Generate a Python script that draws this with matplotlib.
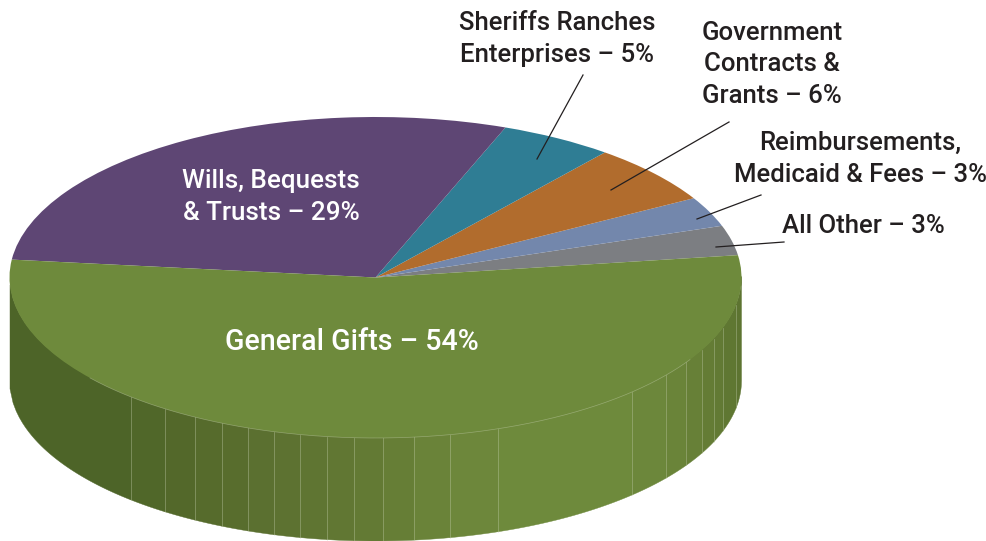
import numpy as np
import matplotlib
matplotlib.use("Agg")
import matplotlib.pyplot as plt

W, H = 987, 541
CX, CY, RX, RY, DEPTH = 375.5, 277.5, 366, 160.5, 103

categories = ["All Other", "Reimbursements, Medicaid & Fees", "Government Contracts & Grants",
              "Sheriffs Ranches Enterprises", "Wills, Bequests & Trusts", "General Gifts"]
values = [3, 3, 6, 5, 29, 54]
colors = ["#7c7e82", "#7387ac", "#b16c2d", "#2f7d94", "#5e4674", "#6e8a3c"]
start_angle = 8

seams = [10, 131, 165, 195, 222, 248, 274, 300, 327, 354, 383, 414, 450, 498,
         632, 666, 686, 702, 714, 723, 736, 741.5]
shades = ["#4d6428", "#506729", "#53682a", "#566b2c", "#586d2d", "#5b7030", "#5d7231",
          "#5f7532", "#617733", "#637a34", "#667e36", "#6a8339", "#6d873b",
          "#6e8a3c", "#6c873b", "#6a8439", "#678037", "#647c35", "#627a34", "#5f7732", "#5d7431"]

labels = [("Sheriffs Ranches", 557, 23, "#231f20", 18.5), ("Enterprises – 5%", 557, 55, "#231f20", 18.5),
          ("Government", 772, 33, "#231f20", 18.5), ("Contracts &", 772, 64, "#231f20", 18.5),
          ("Grants – 6%", 772, 96, "#231f20", 18.5),
          ("Reimbursements,", 860, 143, "#231f20", 18.5), ("Medicaid & Fees – 3%", 860, 175, "#231f20", 18.5),
          ("All Other – 3%", 863, 226, "#231f20", 18.5),
          ("Wills, Bequests", 271, 181, "white", 18.7), ("& Trusts – 29%", 271, 213, "white", 18.7),
          ("General Gifts – 54%", 352, 342, "white", 20.6)]
leaders = [((583, 75), (537, 159)), ((729, 122), (611, 190)),
           ((761, 195), (697, 219)), ((784, 242), (716, 247))]

fig = plt.figure(figsize=(W / 100, H / 100), dpi=100, facecolor="white")


def px_axes(z):
    a = fig.add_axes([0, 0, 1, 1], zorder=z)
    a.set_xlim(0, W)
    a.set_ylim(H, 0)
    a.axis("off")
    return a


side = px_axes(1)
for x0, x1, c in zip(seams[:-1], seams[1:], shades):
    xs = np.linspace(x0, x1, 40)
    ys = CY + RY * np.sqrt(np.clip(1 - ((xs - CX) / RX) ** 2, 0, 1))
    side.fill(np.r_[xs, xs[::-1]], np.r_[ys - 1, ys[::-1] + DEPTH], color=c, lw=0.3)
    if 100 < x0 < 741:
        yt = CY + RY * np.sqrt(1 - ((x0 - CX) / RX) ** 2)
        side.plot([x0, x0], [yt, yt + DEPTH], color="#c9d3b4", lw=0.5, alpha=0.5)

pie = fig.add_axes([0, 0, 1, 1], zorder=2)
pie.patch.set_alpha(0)
wedges, _ = pie.pie(values, colors=colors, startangle=start_angle, radius=1, center=(0, 0),
                    wedgeprops=dict(linewidth=0))
pie.set_aspect("auto")
pie.set_xlim(-CX / RX, (W - CX) / RX)
pie.set_ylim(-(H - CY) / RY, CY / RY)
pie.axis("off")

top = px_axes(3)
rim_x = np.linspace(90, 690, 300)
top.plot(rim_x, CY + RY * np.sqrt(1 - ((rim_x - CX) / RX) ** 2), color="#c9d3b4", lw=0.5, alpha=0.45)
for (a, b) in leaders:
    top.plot([a[0], b[0]], [a[1], b[1]], color="#231f20", lw=0.9)
for s, x, y, c, fs in labels:
    top.text(x, y, s, color=c, ha="center", va="center", family="Roboto",
             fontsize=fs, fontweight="medium")

fig.savefig("out.png", dpi=100)
